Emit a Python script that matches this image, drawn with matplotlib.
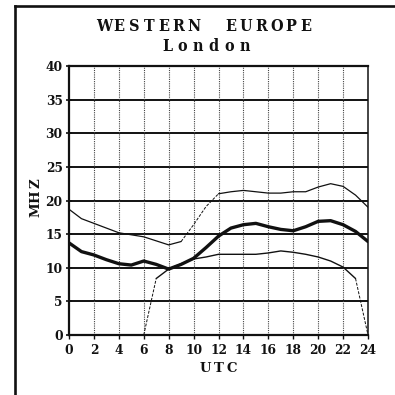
"""Propagation chart: Western Europe / London, MHz vs UTC."""
import matplotlib

matplotlib.use("Agg")
import matplotlib.pyplot as plt
from matplotlib.lines import Line2D

INK = "#111111"
GRIDV = "#444444"
SIZE = 395.0

plt.rcParams.update({"font.family": "DejaVu Serif", "font.weight": "bold"})

# ---------------------------------------------------------------- data
hours_upper_a = [0, 1, 2, 3, 4, 5, 6, 7, 8, 9]
mhz_upper_a = [18.7, 17.3, 16.6, 15.9, 15.2, 14.9, 14.6, 14.0, 13.4, 13.9]
hours_upper_gap = [9, 10, 11, 12]
mhz_upper_gap = [13.9, 16.4, 19.1, 21.0]
hours_upper_b = [12, 13, 14, 15, 16, 17, 18, 19, 20, 21, 22, 23, 24]
mhz_upper_b = [21.0, 21.3, 21.5, 21.3, 21.1, 21.1, 21.3, 21.3, 22.0, 22.5, 22.1, 20.8, 19.0]

hours_mid = list(range(0, 25))
mhz_mid = [13.7, 12.4, 11.9, 11.2, 10.6, 10.4, 11.0, 10.5, 9.8, 10.5, 11.4, 13.0,
           14.7, 15.9, 16.4, 16.6, 16.1, 15.7, 15.5, 16.1, 16.9, 17.0, 16.4, 15.4, 13.9]

hours_lower_rise = [6, 7]
mhz_lower_rise = [0.0, 8.4]
hours_lower = list(range(7, 24))
mhz_lower = [8.4, 9.8, 10.6, 11.3, 11.6, 12.0, 12.0, 12.0, 12.0, 12.2, 12.5, 12.3,
             12.0, 11.6, 11.0, 10.1, 8.4]
hours_lower_fall = [23, 24]
mhz_lower_fall = [8.4, 0.0]

x_ticks = list(range(0, 25, 2))
y_ticks = list(range(0, 41, 5))


def px(x, y):
    """pixel coords (from top-left) -> figure fraction"""
    return x / SIZE, 1 - y / SIZE


def spaced(fig, text, xc, y, pitch, vertical=False, **kw):
    """Letter-spaced text: one character per slot, slots `pitch` px apart."""
    n = len(text)
    for i, ch in enumerate(text):
        if ch == " ":
            continue
        off = (i - (n - 1) / 2) * pitch
        if vertical:
            fig.text(*px(xc, y - off), ch, rotation=90, ha="center", va="center", **kw)
        else:
            fig.text(*px(xc + off, y), ch, ha="center", va="baseline", **kw)


fig = plt.figure(figsize=(3.95, 3.95), dpi=100)
ax = fig.add_axes([69 / SIZE, 1 - 335 / SIZE, 299 / SIZE, 269 / SIZE])

# grid: solid horizontals, dotted verticals
for v in y_ticks[1:-1]:
    ax.axhline(v, color=INK, lw=1.4, zorder=1)
for h in x_ticks[1:-1]:
    ax.axvline(h, color=GRIDV, lw=0.8, ls=(0, (1, 1)), zorder=1)

thin = dict(color=INK, lw=0.9, zorder=3, solid_capstyle="round")
dash = dict(color=INK, lw=0.7, ls=(0, (3, 1.5)), zorder=3)
ax.plot(hours_upper_a, mhz_upper_a, **thin)
ax.plot(hours_upper_gap, mhz_upper_gap, **dash)
ax.plot(hours_upper_b, mhz_upper_b, **thin)
ax.plot(hours_mid, mhz_mid, color=INK, lw=2.4, zorder=4, solid_capstyle="round")
ax.plot(hours_lower_rise, mhz_lower_rise, **dash)
ax.plot(hours_lower, mhz_lower, color=INK, lw=1.0, zorder=3, solid_capstyle="round")
ax.plot(hours_lower_fall, mhz_lower_fall, **dash)

ax.set_xlim(0, 24)
ax.set_ylim(0, 40)
ax.set_xticks(x_ticks)
ax.set_yticks(y_ticks)
ax.tick_params(axis="y", direction="inout", length=4, width=1.2, pad=2.5,
               labelsize=8.8, colors=INK)
ax.tick_params(axis="x", direction="out", length=3, width=1.0, pad=3.2,
               labelsize=8.8, colors=INK)
for s in ax.spines.values():
    s.set_color(INK)
ax.spines["top"].set_linewidth(1.6)
ax.spines["bottom"].set_linewidth(1.6)
ax.spines["left"].set_linewidth(1.6)
ax.spines["right"].set_linewidth(1.1)

# titles and axis labels, letter-spaced like the original
title_kw = dict(fontsize=11.5, color=INK, fontstretch="condensed")
spaced(fig, "W E S T E R N    E U R O P E", 205, 31, 7.5, **title_kw)
spaced(fig, "L o n d o n", 206, 51, 7.8, **title_kw)
spaced(fig, "U T C", 218.5, 371.5, 6.75, fontsize=9.5, color=INK)
spaced(fig, "M H Z", 35.5, 196.7, 6.7, vertical=True, fontsize=9.5, color=INK)

# page border of the scanned figure
fig.add_artist(Line2D([15 / SIZE, 1], [1 - 6 / SIZE] * 2, color=INK, lw=1.9))
fig.add_artist(Line2D([15 / SIZE] * 2, [1 - 6 / SIZE, 0], color=INK, lw=1.9))

fig.savefig("out.png", dpi=100, facecolor="white")
